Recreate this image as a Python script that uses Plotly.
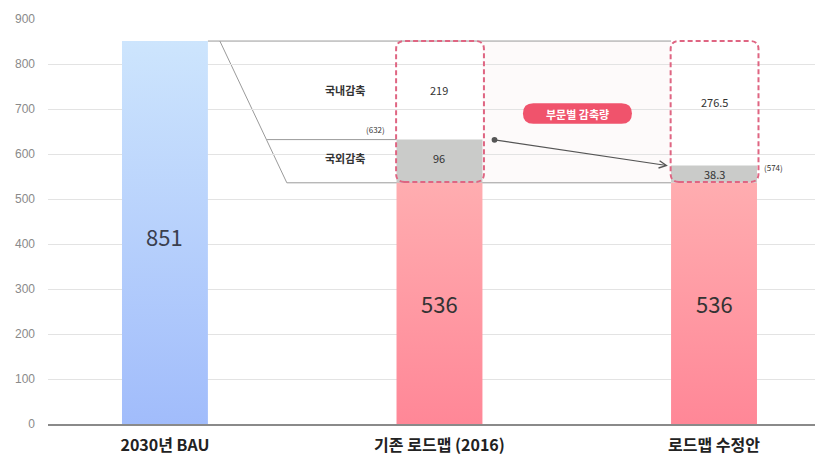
import plotly.graph_objects as go

categories = ["2030년 BAU", "기존 로드맵 (2016)", "로드맵 수정안"]
base_values = [851, 536, 536]
overseas_cut = [0, 96, 38.3]
domestic_cut = [0, 219, 276.5]
totals = [851, 632, 574]
y_ticks = [0, 100, 200, 300, 400, 500, 600, 700, 800, 900]

W = 0.313
BAR_GRADIENTS = [
    [[0, "#a1bcfb"], [1, "#cde5fd"]],
    [[0, "#ff8797"], [1, "#ffadb0"]],
    [[0, "#ff8797"], [1, "#ffadb0"]],
]
FONT = "Noto Sans CJK KR"

fig = go.Figure()

# main bars with vertical gradient
for i, v in enumerate(base_values):
    xs = [i - W / 2, i + W / 2, i + W / 2, i - W / 2, i - W / 2]
    ys = [0, 0, v, v, 0]
    fig.add_trace(go.Scatter(
        x=xs, y=ys, mode="lines", fill="toself", line=dict(width=0),
        fillgradient=dict(type="vertical", colorscale=BAR_GRADIENTS[i]),
        hoverinfo="skip", showlegend=False))

# overseas reduction (gray) segments
fig.add_trace(go.Bar(
    x=[1, 2], y=overseas_cut[1:], base=base_values[1:], width=W,
    marker=dict(color="#cacbc9", line=dict(width=0)),
    hoverinfo="skip", showlegend=False))

shapes = []
LINE = dict(color="#9a9a9a", width=1)
# light shaded band between the two dashed boxes
shapes.append(dict(type="rect", xref="x", yref="y", x0=1 + W / 2, x1=2 - W / 2,
                   y0=base_values[1], y1=base_values[0], fillcolor="#fdfafa",
                   line=dict(width=0), layer="below"))
# connector lines
shapes.append(dict(type="line", xref="x", yref="y", x0=W / 2, x1=2 - W / 2,
                   y0=base_values[0], y1=base_values[0], line=LINE, layer="below"))
shapes.append(dict(type="line", xref="x", yref="y", x0=0.2, x1=0.444,
                   y0=base_values[0], y1=base_values[1], line=LINE, layer="below"))
shapes.append(dict(type="line", xref="x", yref="y", x0=0.372, x1=1 - W / 2,
                   y0=totals[1], y1=totals[1], line=LINE, layer="below"))
shapes.append(dict(type="line", xref="x", yref="y", x0=0.444, x1=2 - W / 2,
                   y0=base_values[1], y1=base_values[1], line=LINE, layer="below"))


def rounded_path(x0, x1, y0, y1, rx, ry):
    return (f"M {x0+rx},{y0} L {x1-rx},{y0} Q {x1},{y0} {x1},{y0+ry} "
            f"L {x1},{y1-ry} Q {x1},{y1} {x1-rx},{y1} L {x0+rx},{y1} "
            f"Q {x0},{y1} {x0},{y1-ry} L {x0},{y0+ry} Q {x0},{y0} {x0+rx},{y0} Z")


# dashed rounded boxes
for i in [1, 2]:
    shapes.append(dict(type="path", xref="x", yref="y",
                       path=rounded_path(i - 0.158, i + 0.162, base_values[i] + 2,
                                         base_values[0], 0.03, 18),
                       line=dict(color="#df6582", width=2, dash="5px,3px"),
                       layer="above"))

# pill
shapes.append(dict(type="path", xref="x", yref="y",
                   path=rounded_path(1.304, 1.701, 667, 713, 0.038, 23),
                   fillcolor="#f0536c", line=dict(width=0), layer="above"))

annotations = []


def txt(x, y, s, size=11, color="#333333", bold=False, xanchor="center"):
    annotations.append(dict(x=x, y=y, xref="x", yref="y", text=f"<b>{s}</b>" if bold else s,
                            showarrow=False, xanchor=xanchor, yanchor="middle",
                            font=dict(family=FONT, size=size, color=color)))


txt(0, 418, str(base_values[0]), size=22, color="#3a3f4f")
txt(1, 269, str(base_values[1]), size=22, color="#333333")
txt(2, 269, str(base_values[2]), size=22, color="#333333")
txt(0.656, 742, "국내감축", bold=True)
txt(0.656, 591, "국외감축", bold=True)
txt(1, 742, str(domestic_cut[1]))
txt(1, 591, str(overseas_cut[1]))
txt(2, 715, str(domestic_cut[2]))
txt(2, 555, str(overseas_cut[2]))
txt(0.81, 655, f"({totals[1]})", size=8, xanchor="right")
txt(2.175, 571, f"({totals[2]})", size=8, xanchor="left")
txt(1.503, 690, "부문별 감축량", size=11, color="#ffffff", bold=True)

# arrow
annotations.append(dict(x=1.832, y=totals[2], ax=1.195, ay=totals[1], xref="x", yref="y",
                        axref="x", ayref="y", showarrow=True, arrowhead=5, arrowsize=1.2,
                        arrowwidth=1.2, arrowcolor="#555555", arrowside="end+start",
                        startarrowhead=6, startarrowsize=1.2, text=""))

fig.update_layout(
    width=815, height=453,
    margin=dict(l=40, r=0, t=11, b=37),
    plot_bgcolor="white", paper_bgcolor="white",
    shapes=shapes, annotations=annotations,
    showlegend=False,
    xaxis=dict(range=[-0.426, 2.397], tickvals=[0, 1, 2], ticktext=[f"<b>{c}</b>" for c in categories],
               tickfont=dict(family=FONT, size=16, color="#222222"), showgrid=False,
               zeroline=False, showline=True, linecolor="#8a8a8a", linewidth=1.5,
               ticks="", ticklabelstandoff=6, fixedrange=True),
    yaxis=dict(range=[0, 900], tickvals=y_ticks, showgrid=True, gridcolor="#e3e3e3",
               gridwidth=1, zeroline=False, showline=False,
               tickfont=dict(family="Liberation Sans", size=12, color="#8a8a8a"),
               ticklabelstandoff=12, fixedrange=True),
)

fig.write_html("out.html")
